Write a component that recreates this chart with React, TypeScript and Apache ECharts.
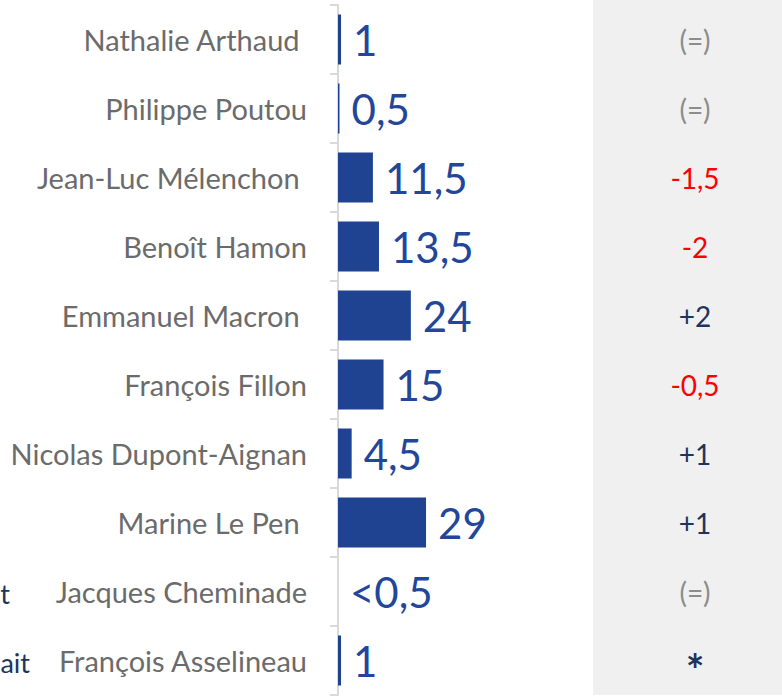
import React, { useEffect, useRef } from "react";
import * as echarts from "echarts";

const candidates = [
  "Nathalie Arthaud ",
  "Philippe Poutou",
  "Jean-Luc Mélenchon ",
  "Benoît Hamon",
  "Emmanuel Macron ",
  "François Fillon",
  "Nicolas Dupont-Aignan",
  "Marine Le Pen ",
  "Jacques Cheminade",
  "François Asselineau",
];
const scores = [1, 0.5, 11.5, 13.5, 24, 15, 4.5, 29, 0, 1];
const scoreLabels = ["1", "0,5", "11,5", "13,5", "24", "15", "4,5", "29", "<0,5", "1"];
const changes = ["(=)", "(=)", "-1,5", "-2", "+2", "-0,5", "+1", "+1", "(=)", "*"];
const changeKinds = ["same", "same", "down", "down", "up", "down", "up", "up", "same", "new"];

const BAR = "#1F4391";
const LABEL_BLUE = "#22469A";
const NAVY = "#1C355E";

export default function App() {
  const ref = useRef<HTMLDivElement>(null);
  useEffect(() => {
    if (!ref.current) return;
    const chart = echarts.init(ref.current, undefined, { renderer: "svg" });
    const styleFor = (i: number) => {
      const k = changeKinds[i];
      if (k === "same") return "same";
      if (k === "down") return "down";
      if (k === "new") return "star";
      return "up";
    };
    chart.setOption({
      animation: false,
      graphic: [
        {
          type: "rect",
          z: -10,
          shape: { x: 593, y: 0, width: 189, height: 695 },
          style: { fill: "#F0F0F0" },
        },
        {
          type: "text",
          x: 10,
          y: 593,
          style: { text: "t", fill: NAVY, font: "27px Lato", align: "right", verticalAlign: "middle" },
        },
        {
          type: "text",
          x: 30,
          y: 662,
          style: { text: "ait", fill: NAVY, font: "27px Lato", align: "right", verticalAlign: "middle" },
        },
      ],
      grid: { left: 338, right: 189, top: 5, bottom: 2, containLabel: false },
      xAxis: { type: "value", min: 0, max: 84, show: false },
      yAxis: [
        {
          type: "category",
          inverse: true,
          data: candidates,
          axisLine: { show: true, lineStyle: { color: "#D9D9D9", width: 2 } },
          axisTick: { show: true, length: 8, lineStyle: { color: "#D9D9D9", width: 2 } },
          axisLabel: {
            margin: 31,
            color: "#6B6B6B",
            fontFamily: "Lato",
            fontSize: 29,
          },
        },
        {
          type: "category",
          inverse: true,
          position: "right",
          data: candidates,
          axisLine: { show: false },
          axisTick: { show: false },
          axisLabel: {
            margin: 102,
            align: "center",
            fontFamily: "Lato",
            fontSize: 28,
            formatter: (_v: string, i: number) => `{${styleFor(i)}|${changes[i]}}`,
            rich: {
              same: { color: "#8C8C8C", fontFamily: "Lato", fontSize: 28 },
              down: { color: "#FF0000", fontFamily: "Lato", fontSize: 28 },
              up: { color: NAVY, fontFamily: "Lato", fontSize: 28 },
              star: { color: NAVY, fontFamily: "Lato", fontSize: 44, fontWeight: "bold", padding: [16, 0, 0, 0] },
            },
          },
        },
      ],
      series: [
        {
          type: "bar",
          yAxisIndex: 0,
          data: scores,
          barWidth: 50,
          itemStyle: { color: BAR },
          label: {
            show: true,
            position: "right",
            distance: 12,
            color: LABEL_BLUE,
            fontFamily: "Lato",
            fontSize: 42,
            formatter: (p: any) => scoreLabels[p.dataIndex],
          },
        },
      ],
    });
    return () => chart.dispose();
  }, []);
  return (
    <div
      ref={ref}
      style={{ position: "fixed", left: 0, top: 0, width: 782, height: 697, background: "#fff" }}
    />
  );
}
